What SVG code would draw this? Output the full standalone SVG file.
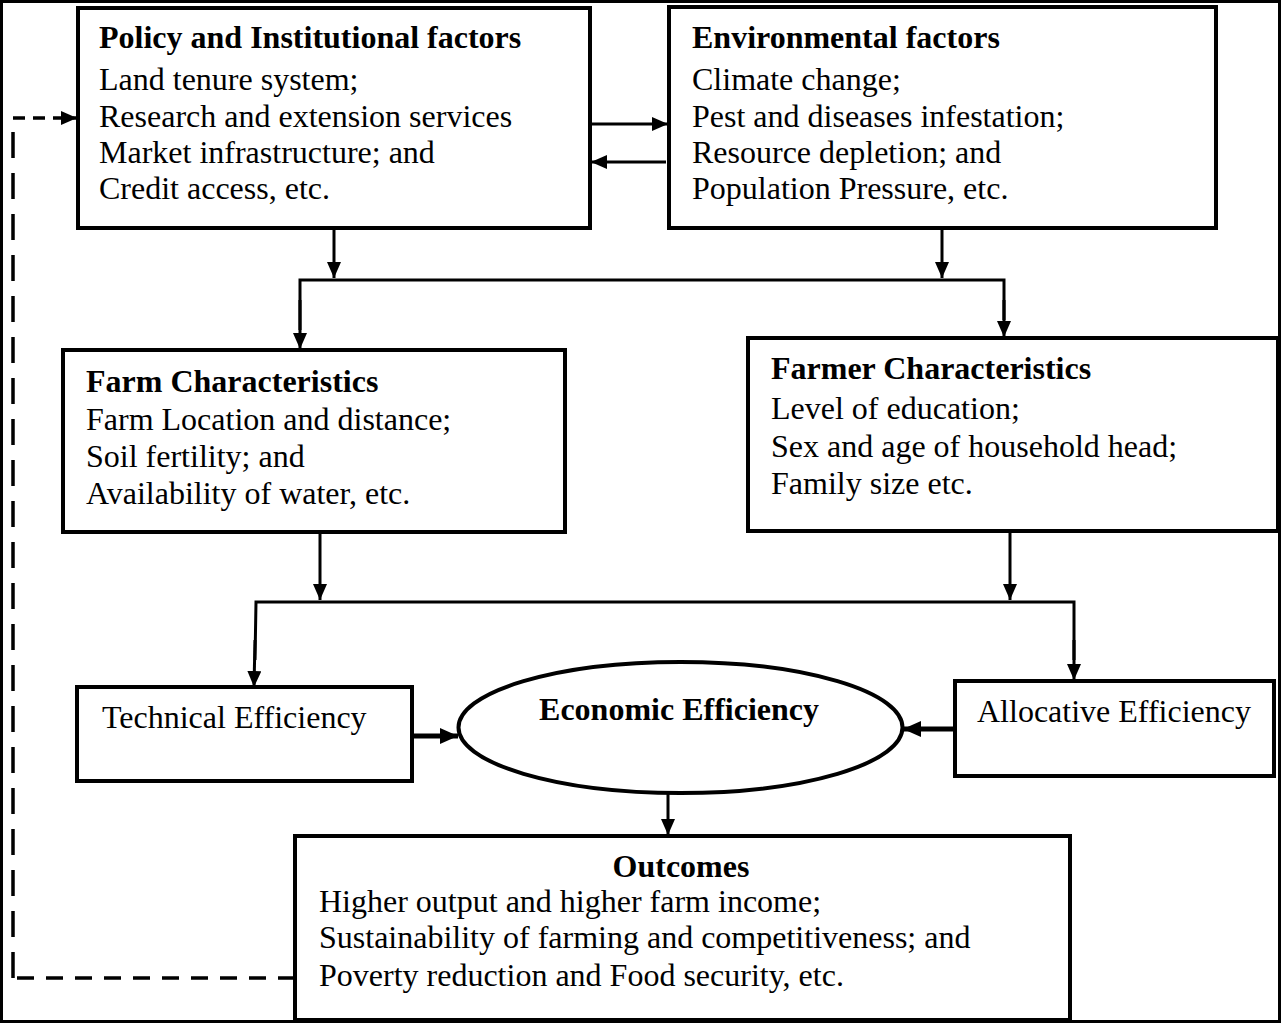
<svg xmlns="http://www.w3.org/2000/svg" width="1283" height="1024" viewBox="0 0 1283 1024">
<defs>
<style>
.box{fill:#fff;stroke:#000;stroke-width:4}
.t{font-family:"Liberation Serif","Times New Roman",serif;font-size:32px;fill:#000}
.b{font-weight:bold}
.c{fill:none;stroke:#000;stroke-width:3}
.thick{fill:none;stroke:#000;stroke-width:5}
.dash{fill:none;stroke:#000;stroke-width:3.5}
</style>
<marker id="ah" markerUnits="userSpaceOnUse" markerWidth="16" markerHeight="14" refX="16" refY="7" orient="auto">
<path d="M0,0 L16,7 L0,14 z" fill="#000"/>
</marker>
<marker id="ahb" markerUnits="userSpaceOnUse" markerWidth="18" markerHeight="16" refX="18" refY="8" orient="auto">
<path d="M0,0 L18,8 L0,16 z" fill="#000"/>
</marker>
</defs>
<rect x="0" y="0" width="1283" height="1024" fill="#fff"/>
<rect x="1.5" y="1.5" width="1278" height="1020" fill="none" stroke="#000" stroke-width="3"/>

<g id="connectors">
<path class="c" d="M591,124 L668,124" marker-end="url(#ah)"/>
<path class="c" d="M666,162 L591,162" marker-end="url(#ah)"/>
<path class="c" d="M334,229 L334,278" marker-end="url(#ah)"/>
<path class="c" d="M942,229 L942,278" marker-end="url(#ah)"/>
<path class="c" d="M300,330 L300,280 L1004,280 L1004,320"/>
<path class="c" d="M300,300 L300,349" marker-end="url(#ah)"/>
<path class="c" d="M1004,300 L1004,337" marker-end="url(#ah)"/>
<path class="c" d="M320,533 L320,600" marker-end="url(#ah)"/>
<path class="c" d="M1010,532 L1010,600" marker-end="url(#ah)"/>
<path class="c" d="M255,660 L256,602 L1074,602 L1074,660"/>
<path class="c" d="M255,640 L254,687" marker-end="url(#ah)"/>
<path class="c" d="M1074,640 L1074,680" marker-end="url(#ah)"/>
<path class="thick" d="M413,736 L458,736" marker-end="url(#ahb)"/>
<path class="thick" d="M955,729 L903,729" marker-end="url(#ahb)"/>
<path class="c" d="M668,794 L668,835" marker-end="url(#ah)"/>
<path class="dash" d="M295,978 L13,978" stroke-dasharray="17 12"/>
<path class="dash" d="M13,978 L13,118" stroke-dasharray="26 15"/>
<path class="dash" d="M13,118 L77,118" stroke-dasharray="12 8" marker-end="url(#ah)"/>
</g>

<g id="policy">
<rect class="box" x="78" y="8" width="512" height="220"/>
<text class="t b" x="99" y="48">Policy and Institutional factors</text>
<text class="t" x="99" y="90">Land tenure system;</text>
<text class="t" x="99" y="127">Research and extension services</text>
<text class="t" x="99" y="163">Market infrastructure; and</text>
<text class="t" x="99" y="199">Credit access, etc.</text>
</g>

<g id="environmental">
<rect class="box" x="669" y="7" width="547" height="221"/>
<text class="t b" x="692" y="48">Environmental factors</text>
<text class="t" x="692" y="90">Climate change;</text>
<text class="t" x="692" y="127">Pest and diseases infestation;</text>
<text class="t" x="692" y="163">Resource depletion; and</text>
<text class="t" x="692" y="199">Population Pressure, etc.</text>
</g>

<g id="farm">
<rect class="box" x="63" y="350" width="502" height="182"/>
<text class="t b" x="86" y="392">Farm Characteristics</text>
<text class="t" x="86" y="430">Farm Location and distance;</text>
<text class="t" x="86" y="467">Soil fertility; and</text>
<text class="t" x="86" y="504">Availability of water, etc.</text>
</g>

<g id="farmer">
<rect class="box" x="748" y="338" width="530" height="193"/>
<text class="t b" x="771" y="379">Farmer Characteristics</text>
<text class="t" x="771" y="419">Level of education;</text>
<text class="t" x="771" y="457">Sex and age of household head;</text>
<text class="t" x="771" y="494">Family size etc.</text>
</g>

<g id="technical">
<rect class="box" x="77" y="687" width="335" height="94"/>
<text class="t" x="102" y="728">Technical Efficiency</text>
</g>

<g id="economic">
<ellipse cx="680.5" cy="727.5" rx="222" ry="65.5" fill="#fff" stroke="#000" stroke-width="4"/>
<text class="t b" x="679" y="720" text-anchor="middle">Economic Efficiency</text>
</g>

<g id="allocative">
<rect class="box" x="955" y="681" width="319" height="95"/>
<text class="t" x="977" y="722">Allocative Efficiency</text>
</g>

<g id="outcomes">
<rect class="box" x="295" y="836" width="775" height="184"/>
<text class="t b" x="681" y="877" text-anchor="middle">Outcomes</text>
<text class="t" x="319" y="912">Higher output and higher farm income;</text>
<text class="t" x="319" y="948">Sustainability of farming and competitiveness; and</text>
<text class="t" x="319" y="986">Poverty reduction and Food security, etc.</text>
</g>
</svg>
